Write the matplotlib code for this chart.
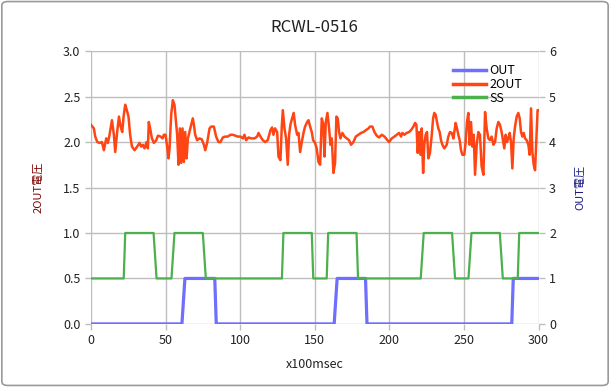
import matplotlib
matplotlib.use("Agg")
import matplotlib.pyplot as plt
from matplotlib.patches import FancyBboxPatch

plt.rcParams['font.family'] = ['Noto Sans CJK JP', 'DejaVu Sans']

# 2OUT (left axis)
t_2out = [0, 2, 2.9, 4.3, 5.8, 7.4, 8.7, 10.3, 11.4, 12.5, 14.1, 15.4, 16.3, 17.6, 18.8, 19.9,
          21, 21.9, 23, 24.1, 25.2, 26.3, 27.5, 29.3, 31, 32.6, 33.7, 34.8, 35.9, 37.3, 38.2,
          38.8, 39.7, 40.9, 42.2, 43.8, 44.9, 46.7, 48, 48.9, 50, 51.1, 52, 52.7, 53.8, 54.9,
          56, 56.9, 57.8, 58.7, 59.6, 60.5, 61.4, 62.3, 63.2, 64.1, 65, 66, 67.2, 68.3, 69,
          69.9, 71.2, 72.8, 74.3, 75.7, 76.6, 77.9, 79.5, 80.6, 82.4, 83.9, 85.5, 86.8, 88.4,
          90, 91.8, 93.5, 95.1, 96.7, 98.4, 100.2, 101.8, 102.9, 104, 105.6, 107.4, 109.6,
          111.4, 112.3, 113.6, 115.2, 116.8, 118.5, 120.3, 121.4, 122.3, 123.4, 124.8, 125.7,
          127, 127.9, 128.6, 129.7, 130.8, 131.9, 132.8, 133.7, 134.8, 135.9, 136.8, 138.2,
          139.1, 140.2, 141.3, 142.6, 143.5, 144.9, 145.8, 146.9, 148, 148.9, 150.2, 151.3,
          152.5, 153.6, 154.7, 155.8, 156.5, 157.4, 158.5, 159.6, 160.5, 161.4, 162.5, 163.6,
          164.5, 165.4, 166.3, 167.2, 168.5, 169.9, 171.4, 173, 174.3, 175.9, 177.5, 179.3,
          181, 182.6, 184.2, 186, 187, 188.6, 190, 191.5, 193.1, 194.9, 196.7, 198.2, 199.8,
          201.6, 203.4, 204.9, 206.5, 207.8, 208.7, 210, 211.6, 213.2, 214.5, 216.1, 217.2,
          218.1, 219, 219.9, 220.8, 221.7, 222.6, 223.4, 224.3, 225.2, 226.1, 227.2, 228.4,
          229.3, 230.1, 231, 231.9, 232.8, 233.7, 234.6, 235.5, 236.8, 238.4, 239.5, 240.6,
          241.8, 242.9, 244.4, 245.3, 246.2, 247.1, 248, 248.9, 250.2, 251.1, 252, 252.9,
          253.8, 254.7, 255.6, 256.5, 257.4, 258.5, 259.6, 260.7, 261.8, 263, 264.1, 265.2,
          266.3, 267.4, 268.5, 269.7, 270.8, 271.9, 273, 274.1, 275.2, 276.1, 277, 277.9,
          278.8, 279.7, 280.6, 281.5, 282.4, 283.3, 284.2, 285.3, 286.4, 287.3, 288.2, 289.1,
          290, 290.9, 292, 293.1, 294, 294.9, 295.8, 296.7, 297.6, 298.4, 299.3, 300]
v_2out = [2.19, 2.15, 2.06, 2.00, 1.99, 2.00, 1.91, 2.04, 1.99, 2.08, 2.24, 2.08, 1.89, 2.11, 2.28, 2.17,
          2.11, 2.28, 2.41, 2.35, 2.28, 2.08, 1.95, 1.91, 1.95, 1.99, 1.95, 1.97, 1.93, 2.00, 1.93,
          2.22, 2.15, 2.04, 1.99, 2.02, 2.07, 2.06, 2.04, 2.08, 2.08, 1.95, 1.82, 1.93, 2.30, 2.46,
          2.41, 2.24, 2.08, 1.75, 2.15, 1.77, 2.15, 1.78, 2.11, 1.82, 2.04, 2.11, 2.19, 2.26, 2.19,
          2.08, 2.02, 2.04, 2.03, 1.97, 1.91, 1.99, 2.15, 2.17, 2.17, 2.06, 2.00, 2.00, 2.05,
          2.06, 2.06, 2.08, 2.08, 2.07, 2.06, 2.06, 2.04, 2.08, 2.02, 2.05, 2.04, 2.04,
          2.06, 2.10, 2.06, 2.02, 2.00, 2.02, 2.13, 2.16, 2.08, 2.15, 2.11, 1.84,
          1.80, 2.17, 2.35, 2.15, 2.04, 1.75, 2.08, 2.19, 2.26, 2.32, 2.19, 2.08,
          2.10, 1.89, 2.00, 2.11, 2.17, 2.22, 2.24, 2.17, 2.11, 2.02, 1.99, 1.93,
          1.78, 1.75, 2.26, 2.19, 1.84, 2.22, 2.32, 2.15, 1.97, 2.04, 1.66, 1.77,
          2.28, 2.26, 2.11, 2.04, 2.10, 2.06, 2.04, 2.02, 1.97, 2.00, 2.06, 2.08,
          2.10, 2.11, 2.13, 2.15, 2.17, 2.17, 2.11, 2.07, 2.05, 2.08, 2.06, 2.03, 2.00,
          2.04, 2.06, 2.08, 2.10, 2.06, 2.10, 2.08, 2.10, 2.11, 2.13, 2.17, 2.21,
          2.19, 1.88, 2.11, 1.86, 2.15, 1.66, 1.97, 2.08, 2.11, 1.82, 1.88, 2.08,
          2.26, 2.32, 2.30, 2.22, 2.15, 2.11, 2.02, 1.97, 1.93, 1.97, 2.06, 2.11,
          2.10, 2.04, 2.21, 2.15, 2.08, 2.02, 1.91, 1.86, 1.86, 2.00, 2.22, 2.32,
          1.97, 2.22, 1.95, 2.08, 1.64, 1.97, 2.11, 2.08, 1.73, 1.64, 2.33, 2.15,
          2.04, 2.02, 2.06, 1.97, 2.00, 2.15, 2.22, 2.19, 2.11, 2.02, 1.93, 2.08,
          2.00, 2.04, 2.10, 2.00, 1.71, 2.04, 2.17, 2.28, 2.32, 2.26, 2.11, 2.06,
          2.10, 2.04, 2.02, 1.97, 1.86, 2.37, 1.89, 1.75, 1.69, 2.00, 2.35, 2.35]

# OUT (right axis)
t_out = [0, 61, 62, 63, 83, 84, 163, 164, 165, 184, 185, 282, 283, 300]
v_out = [0, 0, 0.5, 1, 1, 0, 0, 0.5, 1, 1, 0, 0, 1, 1]

# SS (right axis)
t_ss = [0, 22, 23, 42, 43, 44, 54, 55, 56, 75, 76, 77, 128, 129, 148, 149, 158, 159,
        178, 179, 221, 222, 223, 242, 243, 244, 253, 254, 255, 274, 275, 276, 286, 287, 300]
v_ss = [1, 1, 2, 2, 1.5, 1, 1, 1.5, 2, 2, 1.5, 1, 1, 2, 2, 1, 1, 2,
        2, 1, 1, 1.5, 2, 2, 1.5, 1, 1, 1.5, 2, 2, 1.5, 1, 1, 2, 2]

fig = plt.figure(figsize=(6.1, 3.87), dpi=100)
fig.patches.append(FancyBboxPatch((0.003, 0.004), 0.994, 0.992, boxstyle="round,pad=0,rounding_size=0.01",
                                  transform=fig.transFigure, fill=False, edgecolor="#9a9a9a", linewidth=1.2))

ax = fig.add_axes([0.149, 0.163, 0.734, 0.705])
ax2 = ax.twinx()

grid_c = "#bdbdbd"
ax.set_xlim(0, 300)
ax.set_ylim(0, 3.0)
ax.set_xticks(range(0, 301, 50))
ax.set_yticks([0, 0.5, 1.0, 1.5, 2.0, 2.5, 3.0])
ax.set_yticklabels(["0.0", "0.5", "1.0", "1.5", "2.0", "2.5", "3.0"])
ax2.set_ylim(0, 6)
ax2.set_yticks(range(0, 7))
ax.grid(True, color=grid_c, linewidth=1.0)
for a in (ax, ax2):
    for s in a.spines.values():
        s.set_visible(False)
    a.tick_params(colors=grid_c, labelcolor="#222222", labelsize=9, length=4, width=1)

l2, = ax.plot(t_2out, v_2out, color="#ff4513", linewidth=1.8, label="2OUT")
l1, = ax2.plot(t_out, v_out, color="#6e6eff", linewidth=2.3, label="OUT")
l3, = ax2.plot(t_ss, v_ss, color="#4cb04c", linewidth=1.6, label="SS")

cjk = "Noto Sans CJK JP"
ax.set_ylabel("2OUT電圧", color="#800000", fontsize=8, labelpad=14, family=cjk)
ax2.set_ylabel("OUT電圧", color="#1a1a80", fontsize=8, rotation=90, labelpad=14, family=cjk)
ax.set_xlabel("x100msec", fontsize=9, color="#222222", labelpad=8)
ax.set_title("RCWL-0516", fontsize=12, color="#222222", pad=14)

leg = ax2.legend(handles=[l1, l2, l3], loc="upper right", bbox_to_anchor=(0.975, 0.97), frameon=False,
                 fontsize=9, handlelength=2.6, handletextpad=0.3, labelspacing=0.05, borderaxespad=0)
for h in leg.get_lines():
    h.set_linewidth(2.5)

fig.savefig("out.png", dpi=100)
